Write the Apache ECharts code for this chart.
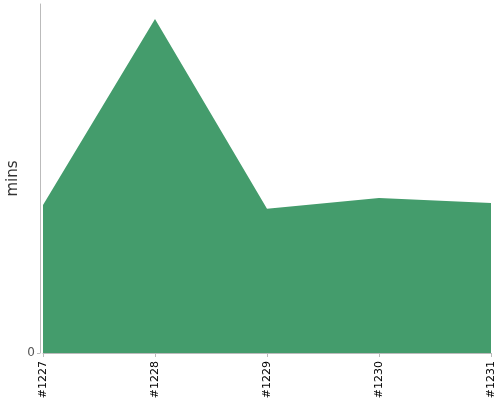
<!DOCTYPE html>
<html><head><meta charset="utf-8">
<script src="https://cdn.jsdelivr.net/npm/echarts@6/dist/echarts.min.js"></script>
<style>html,body{margin:0;padding:0;background:#fff}#c{width:500px;height:400px}</style>
</head><body><div id="c"></div>
<script>
const categories = ['#1227', '#1228', '#1229', '#1230', '#1231'];
const values = [42.4, 95.7, 41.3, 44.4, 43.0];
const yTicks = [0];

const chart = echarts.init(document.getElementById('c'), null, {renderer: 'canvas'});
chart.setOption({
  animation: false,
  grid: {left: 43, right: 9, top: 4, bottom: 47, containLabel: false, outerBoundsMode: 'none'},
  xAxis: {
    type: 'category', data: categories, boundaryGap: false, offset: 2,
    axisLine: {lineStyle: {color: '#bbb', width: 1}},
    axisTick: {show: true, length: 4, alignWithLabel: true, lineStyle: {color: '#bbb'}},
    axisLabel: {rotate: 90, color: '#000', fontSize: 11, fontFamily: 'DejaVu Sans', margin: 6, interval: 0}
  },
  yAxis: {
    type: 'value', min: 0, max: 100, offset: 3,
    name: 'mins', nameLocation: 'middle', nameGap: 19, nameRotate: 90, nameMoveOverlap: false,
    nameTextStyle: {fontSize: 15, color: '#333', fontFamily: 'DejaVu Sans'},
    axisLine: {show: true, lineStyle: {color: '#bbb'}},
    axisTick: {show: true, length: 3, customValues: yTicks, lineStyle: {color: '#bbb'}},
    splitLine: {show: false},
    axisLabel: {color: '#555', fontSize: 12, fontFamily: 'DejaVu Sans', margin: 5, customValues: yTicks}
  },
  series: [{
    type: 'line', data: values, symbol: 'none',
    lineStyle: {width: 0},
    areaStyle: {color: '#449c6c', opacity: 1}
  }]
});
</script></body></html>
